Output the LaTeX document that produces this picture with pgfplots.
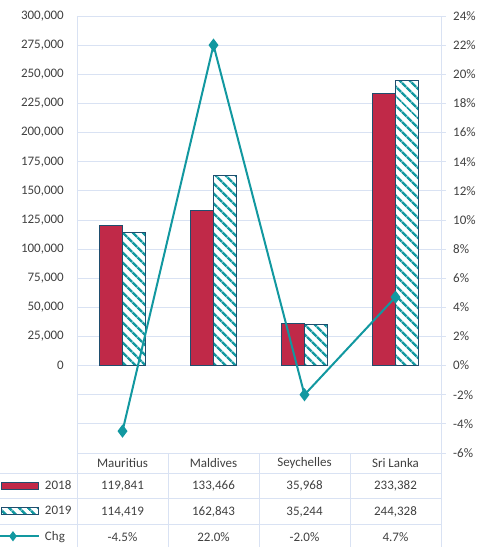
\documentclass[border=0pt]{standalone}
\usepackage{pgfplots}
\pgfplotsset{compat=1.18}
\usepackage{fontspec}
\setmainfont{Carlito}
\usetikzlibrary{patterns.meta}
\definecolor{gridblue}{RGB}{217,226,243}
\definecolor{barred}{RGB}{192,41,72}
\definecolor{barborder}{RGB}{31,78,110}
\definecolor{chgteal}{RGB}{18,152,160}
\definecolor{txt}{RGB}{64,64,64}
\pgfplotsset{
  rectlegend/.style={legend image code/.code={\draw[##1] (0bp,-3.5bp) rectangle (37bp,3.5bp);}},
  linelegend/.style={legend image code/.code={\draw[mark repeat=3,mark phase=2,##1] plot coordinates {(0bp,0bp) (11bp,0bp) (37bp,0bp)};}},
}

\begin{document}
\begin{tikzpicture}[font=\fontsize{13bp}{15bp}\selectfont]
\begin{axis}[
  scale only axis, width=364bp, height=437bp,
  xmin=-0.5, xmax=3.5, ymin=-75000, ymax=300000,
  /pgf/number format/assume math mode=true,
  scaled y ticks=false,
  xtick=\empty,
  ytick={-75000,-50000,-25000,0,25000,50000,75000,100000,125000,150000,175000,200000,225000,250000,275000,300000},
  yticklabels={{},{},{},0,{25,000},{50,000},{75,000},{100,000},{125,000},{150,000},{175,000},{200,000},{225,000},{250,000},{275,000},{300,000}},
  yticklabel style={anchor=east, inner sep=0pt, xshift=-13bp, text=txt},
  major tick length=0pt,
  ymajorgrids, grid style={gridblue, line width=0.8bp},
  axis line style={gridblue, line width=0.8bp},
  ybar=0pt, bar width=23bp,
  clip=false,
  legend style={at={(0,0)}, anchor=north west, xshift=-99bp, yshift=-20bp,
    draw=none, fill=none, inner sep=0pt, outer sep=0pt, row sep=0pt,
    nodes={inner sep=0pt, minimum height=25.3bp, anchor=west, text=txt},
    /tikz/every odd column/.append style={column sep=5bp}},
]
\addplot[fill=barred, draw=barborder, line width=1bp, rectlegend]
  coordinates {(0,119841) (1,133466) (2,35968) (3,233382)};
\addlegendentry{2018}
\addplot[preaction={fill=white}, pattern={Lines[angle=-45,distance=6.8bp,line width=2.6bp]}, pattern color=chgteal, draw=barborder, line width=1bp, rectlegend]
  coordinates {(0,114419) (1,162843) (2,35244) (3,244328)};
\addlegendentry{2019}
\addlegendimage{chgteal, line width=2bp, mark=diamond*, mark size=3.5bp, linelegend}
\addlegendentry{Chg}
\end{axis}
\begin{axis}[
  scale only axis, width=364bp, height=437bp,
  xmin=-0.5, xmax=3.5, ymin=-6, ymax=24,
  /pgf/number format/assume math mode=true,
  axis x line=none, axis y line*=right,
  ytick={-6,-4,...,24},
  yticklabels={-6\%,-4\%,-2\%,0\%,2\%,4\%,6\%,8\%,10\%,12\%,14\%,16\%,18\%,20\%,22\%,24\%},
  yticklabel style={anchor=west, inner sep=0pt, xshift=7bp, text=txt},
  tick align=outside, major tick length=5bp,
  tick style={gridblue, line width=0.8bp},
  axis line style={gridblue, line width=0.8bp},
  clip=false,
]
\addplot[chgteal, line width=2bp, mark=diamond*, mark size=5bp]
  coordinates {(0,-4.5) (1,22.0) (2,-2.0) (3,4.7)};
\end{axis}
% data table
\begin{scope}[gridblue, line width=0.8bp]
  \foreach \x in {0,91,182,273,364} \draw (\x bp,0bp) -- (\x bp,-94bp);
  \foreach \y in {-20,-45.3,-71} \draw (-77bp,\y bp) -- (364bp,\y bp);
\end{scope}
\begin{scope}[text=txt]
  \node at (45.5bp,-10bp) {Mauritius};
  \node at (136.5bp,-10bp) {Maldives};
  \node at (227.5bp,-10bp) {Seychelles};
  \node at (318.5bp,-10bp) {Sri Lanka};
  \node at (45.5bp,-32.7bp) {119,841};
  \node at (136.5bp,-32.7bp) {133,466};
  \node at (227.5bp,-32.7bp) {35,968};
  \node at (318.5bp,-32.7bp) {233,382};
  \node at (45.5bp,-58.7bp) {114,419};
  \node at (136.5bp,-58.7bp) {162,843};
  \node at (227.5bp,-58.7bp) {35,244};
  \node at (318.5bp,-58.7bp) {244,328};
  \node at (45.5bp,-83.7bp) {-4.5\%};
  \node at (136.5bp,-83.7bp) {22.0\%};
  \node at (227.5bp,-83.7bp) {-2.0\%};
  \node at (318.5bp,-83.7bp) {4.7\%};
\end{scope}
\pgfresetboundingbox
\useasboundingbox (-77bp,-94bp) rectangle (414bp,453bp);
\end{tikzpicture}
\end{document}
